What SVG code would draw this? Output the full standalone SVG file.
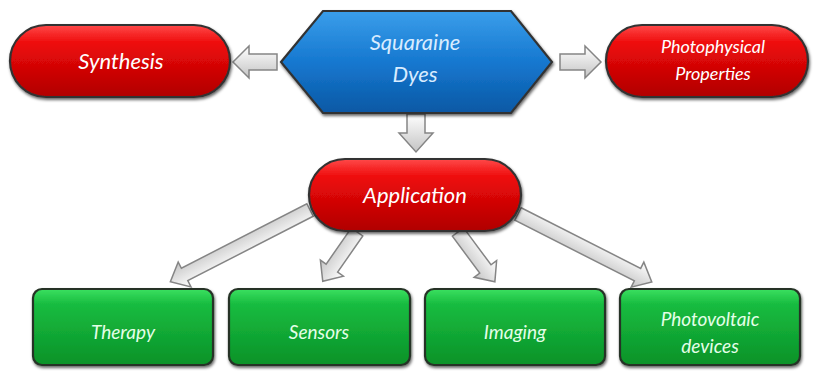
<svg xmlns="http://www.w3.org/2000/svg" width="813" height="372" viewBox="0 0 813 372">
<defs>
<linearGradient id="gRed" x1="0" y1="0" x2="0" y2="1">
<stop offset="0" stop-color="#ff4a4a"/><stop offset="0.25" stop-color="#ee0a0a"/><stop offset="1" stop-color="#b00000"/>
</linearGradient>
<linearGradient id="gGreen" x1="0" y1="0" x2="0" y2="1">
<stop offset="0" stop-color="#3ae060"/><stop offset="0.2" stop-color="#18bc40"/><stop offset="1" stop-color="#0a9228"/>
</linearGradient>
<linearGradient id="gBlue" x1="0" y1="0" x2="0" y2="1">
<stop offset="0" stop-color="#3a9eea"/><stop offset="0.5" stop-color="#1678d0"/><stop offset="1" stop-color="#0a58a4"/>
</linearGradient>
<linearGradient id="gArrow" x1="0" y1="0" x2="0" y2="1">
<stop offset="0" stop-color="#ffffff"/><stop offset="1" stop-color="#c4c4c4"/>
</linearGradient>
<filter id="sh" x="-10%" y="-10%" width="120%" height="130%">
<feDropShadow dx="1" dy="2" stdDeviation="1.5" flood-color="#000" flood-opacity="0.6"/>
</filter>
</defs>
<style>
.red{fill:url(#gRed);stroke:#333;stroke-width:2.2;filter:url(#sh)}
.green{fill:url(#gGreen);stroke:#263326;stroke-width:2.2;filter:url(#sh)}
.blue{fill:url(#gBlue);stroke:#333;stroke-width:2.2;filter:url(#sh)}
.arr{fill:url(#gArrow);stroke:#858585;stroke-width:1.5}
text{font-family:Lato,"Open Sans","Liberation Sans",sans-serif;font-style:italic;text-anchor:middle}
.tw{fill:#ffffff;font-size:22px}
.tb{fill:#d8ecff;font-size:22px}
.tg{fill:#e4ffe8;font-size:19px}
.tr{fill:#ffffff;font-size:18px}
</style>

<g id="connectors">
<polygon class="arr" points="277,54 249,54 249,46 233,62 249,78 249,70 277,70"/>
<polygon class="arr" points="560,54 585,54 585,46 601,62 585,78 585,70 560,70"/>
<polygon class="arr" points="407,114 425,114 425,133 433,133 416,152 399,133 407,133"/>
<path class="arr" transform="translate(310,210) rotate(152.8)" d="M0,-7 L141,-7 L141,-14 L157,0 L141,14 L141,7 L0,7 Z"/>
<path class="arr" transform="translate(357,232) rotate(124.8)" d="M0,-7 L44,-7 L44,-14 L60,0 L44,14 L44,7 L0,7 Z"/>
<path class="arr" transform="translate(458,232) rotate(53.5)" d="M0,-7 L46,-7 L46,-14 L62,0 L46,14 L46,7 L0,7 Z"/>
<path class="arr" transform="translate(518,214) rotate(26.9)" d="M0,-7 L134,-7 L134,-14 L150,0 L134,14 L134,7 L0,7 Z"/>
</g>

<g id="synthesis">
<rect class="red" x="10" y="25" width="220" height="72" rx="36"/>
<text class="tw" x="121" y="69">Synthesis</text>
</g>

<g id="squaraine">
<polygon class="blue" points="281,62 323,11 511,11 552,62 511,113 323,113"/>
<text class="tb" x="415" y="50">Squaraine</text>
<text class="tb" x="415" y="82">Dyes</text>
</g>

<g id="photophysical">
<rect class="red" x="606" y="25" width="202" height="72" rx="36"/>
<text class="tr" x="713" y="53">Photophysical</text>
<text class="tr" x="713" y="80">Properties</text>
</g>

<g id="application">
<rect class="red" x="309" y="159" width="212" height="72" rx="36"/>
<text class="tw" x="415" y="203">Application</text>
</g>

<g id="therapy">
<rect class="green" x="33" y="289" width="180" height="76" rx="9"/>
<text class="tg" x="123" y="339">Therapy</text>
</g>

<g id="sensors">
<rect class="green" x="229" y="289" width="181" height="76" rx="9"/>
<text class="tg" x="319" y="339">Sensors</text>
</g>

<g id="imaging">
<rect class="green" x="425" y="289" width="180" height="76" rx="9"/>
<text class="tg" x="515" y="339">Imaging</text>
</g>

<g id="photovoltaic">
<rect class="green" x="620" y="289" width="180" height="76" rx="9"/>
<text class="tg" x="710" y="326">Photovoltaic</text>
<text class="tg" x="710" y="353">devices</text>
</g>
</svg>
